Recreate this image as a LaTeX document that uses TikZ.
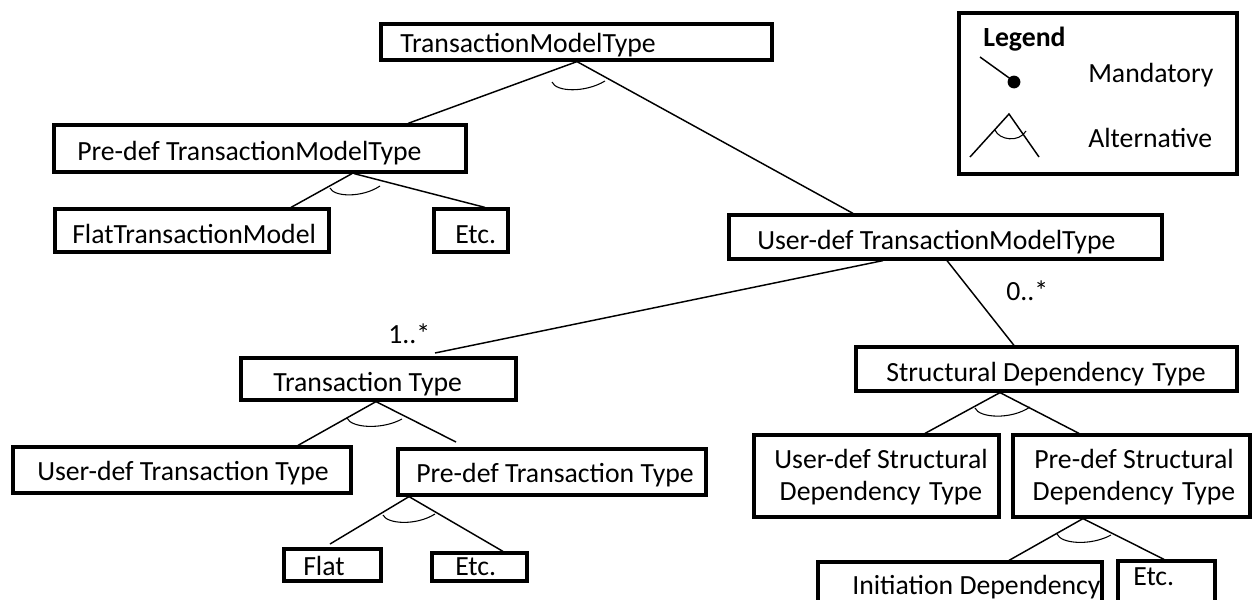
\documentclass[tikz,border=0pt]{standalone}
\usepackage{fontspec}
\setmainfont{Carlito}
\usetikzlibrary{fit}
\begin{document}
\begin{tikzpicture}[x=0.75pt,y=-0.75pt,
  box/.style={draw=black,line width=2.4pt,inner sep=0pt,rectangle},
  lbl/.style={inner sep=0pt,font=\fontsize{20.8}{24}\selectfont,text=black},
  conn/.style={line width=1.1pt,black},
  alt/.style={line width=0.8pt,black},
]
\useasboundingbox (0,0) rectangle (1254,600);

% ---- feature boxes ----
\node[box,fit={(381,24) (772,60)}]    (tmt)  {};
\node[box,fit={(54,125) (466,172)}]   (pdtm) {};
\node[box,fit={(55,209) (329,252)}]   (ftm)  {};
\node[box,fit={(434,209) (508,252)}]  (etca) {};
\node[box,fit={(729,215) (1162,259)}] (udtm) {};
\node[box,fit={(241,358) (516,400)}]  (tt)   {};
\node[box,fit={(856,347) (1237,391)}] (sdt)  {};
\node[box,fit={(13,447) (351,493)}]   (udtt) {};
\node[box,fit={(398,449) (706,495)}]  (pdtt) {};
\node[box,fit={(284,549) (381,581)}]  (flat) {};
\node[box,fit={(432,553) (527,581)}]  (etcb) {};
\node[box,fit={(754,435) (999,517)}]  (udsd) {};
\node[box,fit={(1013,435) (1250,517)}] (pdsd) {};
\node[box,fit={(818,562) (1102,615)}] (init) {};
\node[box,fit={(1118,561) (1215,615)}] (etcc) {};

% ---- box texts ----
\node[lbl,anchor=base west] (tmt-t)  at (400,52)  {TransactionModelType};
\node[lbl,anchor=base west] (pdtm-t) at (77,160)  {Pre-def TransactionModelType};
\node[lbl,anchor=base west] (ftm-t)  at (72,243)  {FlatTransactionModel};
\node[lbl,anchor=base west] (etca-t) at (455,243) {Etc.};
\node[lbl,anchor=base west] (udtm-t) at (757,249) {User-def TransactionModelType};
\node[lbl,anchor=base west] (tt-t)   at (273,391) {Transaction Type};
\node[lbl,anchor=base west] (sdt-t)  at (886,381) {Structural Dependency\hspace{0.3em}Type};
\node[lbl,anchor=base west] (udtt-t) at (37,480)  {User-def Transaction Type};
\node[lbl,anchor=base west] (pdtt-t) at (416,482) {Pre-def Transaction Type};
\node[lbl,anchor=base west] (flat-t) at (303,575) {Flat};
\node[lbl,anchor=base west] (etcb-t) at (455,575) {Etc.};
\node[lbl,anchor=base,align=center] (udsd-t) at (881,500)
  {User-def Structural\\Dependency\hspace{0.3em}Type};
\node[lbl,anchor=base,align=center] (pdsd-t) at (1134,500)
  {Pre-def Structural\\Dependency\hspace{0.3em}Type};
\node[lbl,anchor=base west] (init-t) at (852,594) {Initiation Dependency};
\node[lbl,anchor=base west] (etcc-t) at (1133,585) {Etc.};

% ---- multiplicities ----
\node[lbl,anchor=base west] (m1) at (388,343)  {1..*};
\node[lbl,anchor=base west] (m0) at (1006,300) {0..*};

% ---- connectors ----
\coordinate (tt-in)   at (435,353);
\coordinate (tt-r)    at (456,442);
\coordinate (pdtt-l)  at (330,544);

\draw[conn] (577,0 |- tmt.south) -- (408,0 |- pdtm.north);
\draw[conn] (577,0 |- tmt.south) -- (853,0 |- udtm.north);
\draw[conn] (352,0 |- pdtm.south) -- (291,0 |- ftm.north);
\draw[conn] (354,0 |- pdtm.south) -- (485,0 |- etca.north);
\draw[conn] (883,0 |- udtm.south) -- (tt-in);
\draw[conn] (947,0 |- udtm.south) -- (1014,0 |- sdt.north);
\draw[conn] (376,0 |- tt.south) -- (298,0 |- udtt.north);
\draw[conn] (376,0 |- tt.south) -- (tt-r);
\draw[conn] (409,0 |- pdtt.south) -- (pdtt-l);
\draw[conn] (409,0 |- pdtt.south) -- (503,0 |- etcb.north);
\draw[conn] (1000,0 |- sdt.south) -- (925,0 |- udsd.north);
\draw[conn] (1000,0 |- sdt.south) -- (1079,0 |- pdsd.north);
\draw[conn] (1083,0 |- pdsd.south) -- (1009,0 |- init.north);
\draw[conn] (1083,0 |- pdsd.south) -- (1164,0 |- etcc.north);

% ---- alternative arcs ----
\draw[alt] (552,82) .. controls (556,92) and (585,93) .. (605,81);
\draw[alt] (330,188) .. controls (334,197) and (362,198) .. (380,186);
\draw[alt] (347,418) .. controls (351,428) and (382,430) .. (402,419);
\draw[alt] (383,515) .. controls (387,524) and (416,526) .. (435,514);
\draw[alt] (975,408) .. controls (979,418) and (1011,420) .. (1030,407);
\draw[alt] (1057,534) .. controls (1061,544) and (1091,546) .. (1111,535);

% ---- legend ----
\node[box,fit={(959,13) (1237,174)}] (legend) {};
\node[lbl,anchor=base west,font=\fontsize{20.8}{24}\selectfont\bfseries] (legend-t) at (983,46) {Legend};
\node[lbl,anchor=base west] (mand-t) at (1088,82)  {Mandatory};
\node[lbl,anchor=base west] (alt-t)  at (1088,147) {Alternative};
\draw[conn] (980,57) -- (1012,80);
\fill[black] (1014,82) circle (4.8pt);
\draw[conn] (970,157) -- (1009,114) -- (1039,157);
\draw[alt] (995,130) .. controls (999,140) and (1019,143) .. (1026,131);
\end{tikzpicture}
\end{document}
